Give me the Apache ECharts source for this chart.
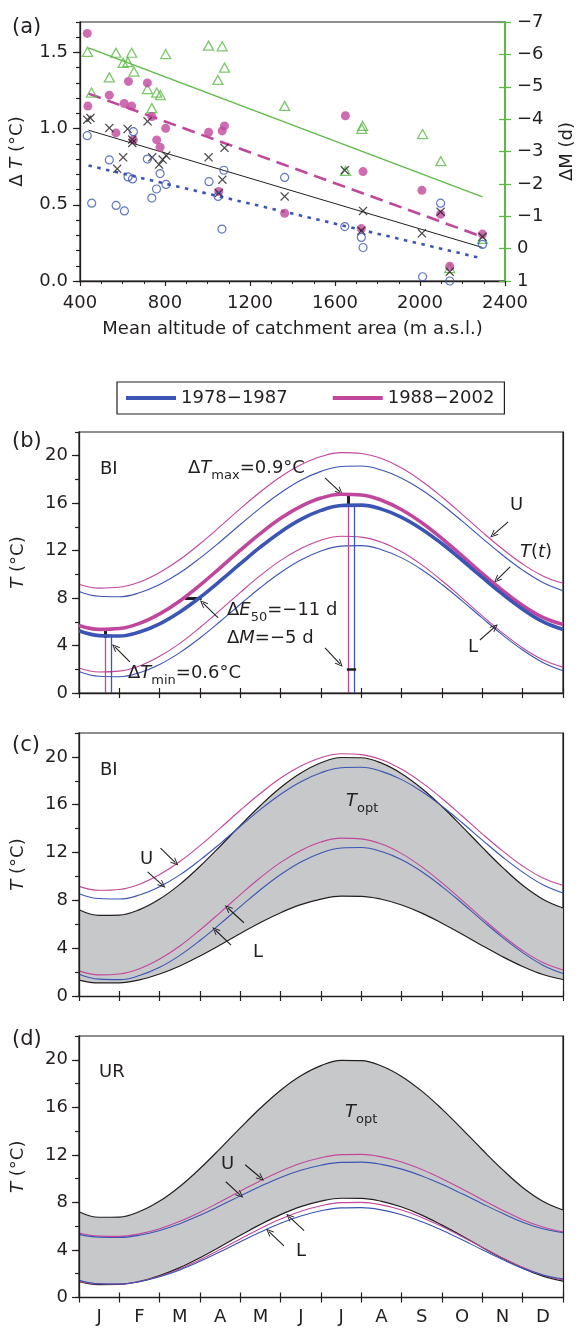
<!DOCTYPE html>
<html>
<head>
<meta charset="utf-8">
<script src="https://cdn.jsdelivr.net/npm/echarts@6/dist/echarts.min.js"></script>
<style>
  html, body { margin: 0; padding: 0; background: #fff; }
  #chart { width: 584px; height: 1329px; }
</style>
</head>
<body>
<div id="chart"></div>
<script>
// panel (a): altitude (m a.s.l.) vs. change
const triAlt = [435, 569, 643, 803, 1005, 1069, 1080, 1049, 603, 625, 654, 538, 454, 717, 761, 778, 738, 1363, 1730, 1726, 2012, 2098, 1650, 2140, 2294];
const triDM = [-6.08, -6.05, -6.05, -6.01, -6.27, -6.25, -5.59, -5.21, -5.74, -5.76, -5.47, -5.29, -4.82, -4.93, -4.82, -4.74, -4.34, -4.41, -3.79, -3.70, -3.54, -2.70, -2.40, 0.60, -0.30];
const dotAlt = [434, 538, 628, 717, 437, 608, 643, 738, 569, 651, 803, 761, 777, 1005, 1069, 1080, 1649, 1053, 1363, 1732, 1724, 2009, 2097, 2140, 2294];
const dotDT = [1.625, 1.22, 1.31, 1.30, 1.148, 1.165, 1.148, 1.08, 0.972, 0.926, 1.002, 0.926, 0.878, 0.976, 0.985, 1.018, 1.085, 0.588, 0.445, 0.718, 0.344, 0.595, 0.438, 0.097, 0.308];
const crossAlt = [434, 449, 538, 624, 718, 646, 646, 603, 740, 806, 1005, 1080, 575, 772, 789, 1070, 1053, 1363, 1646, 1732, 1724, 2009, 2097, 2140, 2294];
const crossDT = [1.059, 1.07, 1.005, 0.998, 1.048, 0.928, 0.906, 0.812, 0.812, 0.823, 0.812, 0.874, 0.736, 0.764, 0.797, 0.665, 0.577, 0.555, 0.727, 0.46, 0.33, 0.313, 0.454, 0.06, 0.29];
const ringAlt = [434, 651, 538, 717, 455, 570, 609, 626, 647, 738, 760, 777, 805, 1007, 1050, 1077, 1068, 1363, 1646, 1724, 1732, 2012, 2097, 2140, 2294];
const ringDT = [0.954, 0.98, 0.795, 0.80, 0.511, 0.496, 0.46, 0.683, 0.67, 0.544, 0.604, 0.705, 0.634, 0.652, 0.555, 0.727, 0.341, 0.68, 0.357, 0.286, 0.22, 0.028, 0.511, 0.0, 0.24];
// fitted lines, end points
const fitAlt = [440, 2294];
const fitDM = [-6.2, -1.6];
const fitDot = [1.23, 0.29];
const fitCross = [0.99, 0.22];
const fitRing = [0.758, 0.148];

// panels (b)-(d): month of year
const months = ['J', 'F', 'M', 'A', 'M', 'J', 'J', 'A', 'S', 'O', 'N', 'D'];
const tGrid = [0, 0.5, 1, 1.5, 2, 2.5, 3, 3.5, 4, 4.5, 5, 5.5, 6, 6.5, 7, 7.5, 8, 8.5, 9, 9.5, 10, 10.5, 11, 11.5, 12];
// BI river
const biU78 = [8.56, 8.15, 8.11, 8.45, 9.14, 10.13, 11.37, 12.75, 14.2, 15.61, 16.88, 17.93, 18.68, 19.09, 19.13, 18.79, 18.1, 17.11, 15.87, 14.49, 13.04, 11.63, 10.36, 9.31, 8.62];
const biU88 = [9.17, 8.84, 8.91, 9.35, 10.16, 11.25, 12.58, 14.04, 15.54, 16.96, 18.23, 19.23, 19.93, 20.26, 20.19, 19.76, 18.96, 17.85, 16.52, 15.06, 13.56, 12.14, 10.87, 9.87, 9.25];
const biL78 = [1.82, 1.41, 1.37, 1.71, 2.40, 3.40, 4.64, 6.03, 7.48, 8.89, 10.16, 11.21, 11.97, 12.38, 12.42, 12.08, 11.39, 10.39, 9.15, 7.76, 6.31, 4.90, 3.63, 2.58, 1.88];
const biL88 = [2.10, 1.77, 1.84, 2.28, 3.09, 4.18, 5.52, 6.98, 8.48, 9.91, 11.18, 12.18, 12.88, 13.21, 13.14, 12.71, 11.91, 10.8, 9.46, 8.0, 6.50, 5.07, 3.80, 2.80, 2.18];
const biT78 = [5.25, 4.84, 4.80, 5.14, 5.83, 6.83, 8.06, 9.45, 10.9, 12.31, 13.58, 14.63, 15.39, 15.8, 15.84, 15.5, 14.81, 13.81, 12.58, 11.19, 9.74, 8.33, 7.06, 6.01, 5.35];
const biT88 = [5.69, 5.36, 5.43, 5.87, 6.67, 7.76, 9.09, 10.55, 12.04, 13.46, 14.73, 15.73, 16.43, 16.75, 16.69, 16.25, 15.45, 14.35, 13.02, 11.56, 10.07, 8.65, 7.38, 6.38, 5.78];
// optimal band
const optHi = [7.22, 6.75, 6.77, 7.23, 8.11, 9.34, 10.85, 12.53, 14.27, 15.94, 17.44, 18.65, 19.51, 19.95, 19.93, 19.48, 18.6, 17.36, 15.85, 14.17, 12.43, 10.76, 9.26, 8.1, 7.36];
const optLo = [1.33, 1.09, 1.10, 1.35, 1.84, 2.51, 3.35, 4.27, 5.23, 6.15, 6.97, 7.64, 8.11, 8.35, 8.34, 8.09, 7.61, 6.93, 6.09, 5.17, 4.21, 3.29, 2.47, 1.80, 1.38];
// UR river
const urU78 = [5.31, 5.07, 5.05, 5.24, 5.64, 6.21, 6.92, 7.72, 8.55, 9.36, 10.10, 10.7, 11.13, 11.37, 11.39, 11.2, 10.8, 10.23, 9.52, 8.72, 7.89, 7.08, 6.34, 5.78, 5.45];
const urU88 = [5.42, 5.16, 5.14, 5.35, 5.78, 6.41, 7.18, 8.05, 8.95, 9.83, 10.63, 11.29, 11.76, 12.02, 12.04, 11.83, 11.4, 10.77, 10.0, 9.13, 8.23, 7.35, 6.55, 5.93, 5.52];
const urL78 = [1.45, 1.16, 1.14, 1.33, 1.74, 2.32, 3.04, 3.84, 4.69, 5.51, 6.25, 6.86, 7.30, 7.54, 7.56, 7.37, 6.96, 6.38, 5.66, 4.86, 4.01, 3.19, 2.45, 1.90, 1.58];
const urL88 = [1.36, 1.16, 1.14, 1.35, 1.78, 2.40, 3.17, 4.03, 4.93, 5.81, 6.6, 7.25, 7.72, 7.98, 8.0, 7.79, 7.36, 6.74, 5.97, 5.11, 4.21, 3.33, 2.54, 1.89, 1.48];
// markers in (b): [1978-1987, 1988-2002]
const minMonth = [0.79, 0.645];
const minTemp = [4.78, 5.35];
const peakMonth = [6.82, 6.68];
const peakTemp = [15.86, 16.76];
const e50Month = [3.04, 2.63];
const e50Temp = 8;
const dMTemp = 2;

const FONT = '"DejaVu Sans", "Liberation Sans", Arial, sans-serif';
const INK = '#231f20';
const BLUE = '#3a55b4';
const MAG = '#c1479c';
const GREEN = '#5cb946';
const GREY = '#c7c8ca';
const ARROW = 'path://M0,10 L5,0 L10,10 L8.6,10 L5,2.8 L1.4,10 Z';
const CROSS = 'path://M1,0 L5,4 L9,0 L10,1 L6,5 L10,9 L9,10 L5,6 L1,10 L0,9 L4,5 L0,1 Z';

const zip = (xs, ys) => xs.map((x, i) => [x, ys[i]]);
// rich text styles: n normal, i italic, s subscript
const rich = {
  n: { fontSize: 18, fontFamily: FONT, color: INK, lineHeight: 28 },
  i: { fontSize: 18, fontFamily: FONT, color: INK, lineHeight: 28, fontStyle: 'italic' },
  s: { fontSize: 13, fontFamily: FONT, color: INK, verticalAlign: 'bottom' },
  p: { fontSize: 21, fontFamily: FONT, color: INK, lineHeight: 28 }
};
const gRich = {};
Object.keys(rich).forEach(k => {
  const r = Object.assign({}, rich[k]);
  r.fill = r.color;
  delete r.color;
  gRich[k] = r;
});

function label(x, yc, text) {
  return {
    type: 'text', x: x, y: yc - 14, silent: true, z: 100,
    style: { text: text, rich: gRich, verticalAlign: 'top', align: 'left' }
  };
}

function monthAxes(grid, showLabels) {
  return [
    {
      type: 'value', gridIndex: grid, min: 0, max: 12, interval: 1, z: 5,
      axisLine: { lineStyle: { color: INK, width: 1.3 } },
      axisTick: { length: 5, lineStyle: { color: INK, width: 1.2 } },
      axisLabel: { show: false }, splitLine: { show: false }
    },
    {
      type: 'category', gridIndex: grid, position: 'bottom', data: months, boundaryGap: true, z: 5,
      axisLine: { show: false },
      axisTick: { show: true, inside: true, length: 5, lineStyle: { color: INK, width: 1.2 } },
      axisLabel: { show: showLabels, interval: 0, margin: 11, fontSize: 18, fontFamily: FONT, color: INK },
      splitLine: { show: false }
    }
  ];
}

function tempAxes(grid) {
  return [
    {
      type: 'value', gridIndex: grid, position: 'left', min: 0, max: 22, interval: 4, z: 5,
      axisLine: { show: true, lineStyle: { color: INK, width: 1.3 } },
      axisTick: { length: 7, lineStyle: { color: INK, width: 1.2 } },
      axisLabel: { margin: 11, fontSize: 18, fontFamily: FONT, color: INK, showMaxLabel: false },
      splitLine: { show: false },
      name: '{i|T}{n| (°C)}', nameLocation: 'middle', nameRotate: 90, nameGap: 47,
      nameTextStyle: { rich: rich }
    },
    {
      type: 'value', gridIndex: grid, position: 'left', min: 0, max: 22, interval: 2, z: 5,
      axisLine: { show: false },
      axisTick: { length: 4, lineStyle: { color: INK, width: 1.2 } },
      axisLabel: { show: false }, splitLine: { show: false }
    },
    {
      // right frame edge drawn over the grey band
      type: 'value', gridIndex: grid, position: 'right', min: 0, max: 22, z: 5,
      axisLine: { show: true, lineStyle: { color: INK, width: 1.2 } },
      axisTick: { show: false }, axisLabel: { show: false }, splitLine: { show: false }
    }
  ];
}

function curve(x, y, vals, color, width, extra) {
  return Object.assign({
    type: 'line', xAxisIndex: x, yAxisIndex: y, data: zip(tGrid, vals),
    smooth: 0.4, symbol: 'none', color: color,
    lineStyle: { color: color, width: width }, z: 4
  }, extra || {});
}

function arrows(list) {
  return {
    silent: true, animation: false, symbol: ['none', ARROW], symbolSize: [7, 8],
    label: { show: false }, lineStyle: { color: INK, width: 1.1, type: 'solid' },
    data: list.map(p => [{ coord: p[0] }, { coord: p[1] }])
  };
}

function band(x, y) {
  // grey T_opt band: grey under the upper edge, white under the lower edge
  return [
    curve(x, y, optHi, INK, 1.2, { z: 1, areaStyle: { color: GREY, opacity: 1, origin: 'start' } }),
    curve(x, y, optLo, INK, 1.2, { z: 1, areaStyle: { color: '#ffffff', opacity: 1, origin: 'start' } })
  ];
}

const mAxB = monthAxes(1, false), mAxC = monthAxes(2, false), mAxD = monthAxes(3, true);
const tAxB = tempAxes(1), tAxC = tempAxes(2), tAxD = tempAxes(3);
const minus = v => (v < 0 ? '\u2212' + (-v) : String(v));

const option = {
  animation: false,
  backgroundColor: '#fff',
  textStyle: { fontFamily: FONT },
  legend: {
    left: 117, top: 382, padding: [7, 10, 7, 9], itemGap: 45, itemWidth: 50, itemHeight: 4,
    icon: 'rect', borderColor: INK, borderWidth: 1.2, selectedMode: false,
    textStyle: { fontSize: 18, fontFamily: FONT, color: INK },
    data: ['1978\u22121987', '1988\u22122002']
  },
  grid: [
    { left: 80, top: 22, width: 433, height: 259, show: true, borderColor: INK, borderWidth: 1.2 },
    { left: 79, top: 432, width: 484, height: 261, show: true, borderColor: INK, borderWidth: 1.2 },
    { left: 79, top: 733, width: 484, height: 263, show: true, borderColor: INK, borderWidth: 1.2 },
    { left: 79, top: 1036, width: 484, height: 261.5, show: true, borderColor: INK, borderWidth: 1.2 }
  ],
  xAxis: [
    {
      type: 'value', gridIndex: 0, min: 400, max: 2400, interval: 400,
      axisLine: { lineStyle: { color: INK, width: 1.3 } },
      axisTick: { length: 5, lineStyle: { color: INK, width: 1.2 } },
      minorTick: { show: true, splitNumber: 4, length: 3, lineStyle: { color: INK, width: 1 } },
      axisLabel: { margin: 13, fontSize: 18, fontFamily: FONT, color: INK, formatter: v => String(v) },
      splitLine: { show: false },
      name: 'Mean altitude of catchment area (m a.s.l.)', nameLocation: 'middle', nameGap: 39,
      nameTextStyle: { fontSize: 18, fontFamily: FONT, color: INK }
    },
    mAxB[0], mAxB[1], mAxC[0], mAxC[1], mAxD[0], mAxD[1]
  ],
  yAxis: [
    {
      type: 'value', gridIndex: 0, position: 'left', min: 0, max: 1.7, interval: 0.5,
      axisLine: { show: true, lineStyle: { color: INK, width: 1.3 } },
      axisTick: { length: 7, lineStyle: { color: INK, width: 1.2 } },
      axisLabel: { margin: 12, fontSize: 18, fontFamily: FONT, color: INK, showMaxLabel: false,
        formatter: v => v.toFixed(1) },
      splitLine: { show: false },
      name: '{n|\u0394 }{i|T}{n| (°C)}', nameLocation: 'middle', nameRotate: 90, nameGap: 49,
      nameTextStyle: { rich: rich }
    },
    {
      type: 'value', gridIndex: 0, position: 'left', min: 0, max: 1.7, interval: 0.1,
      axisLine: { show: false },
      axisTick: { length: 4, lineStyle: { color: INK, width: 1.2 } },
      axisLabel: { show: false }, splitLine: { show: false }
    },
    {
      type: 'value', gridIndex: 0, position: 'right', min: -7, max: 1, interval: 1, inverse: true,
      axisLine: { show: true, lineStyle: { color: GREEN, width: 2 } },
      axisTick: { length: 6, lineStyle: { color: GREEN, width: 1.3 } },
      axisLabel: { margin: 12, fontSize: 18, fontFamily: FONT, color: INK, formatter: minus },
      splitLine: { show: false },
      name: '{n|\u0394M (d)}', nameLocation: 'middle', nameRotate: 90, nameGap: 48,
      nameTextStyle: { rich: rich }
    },
    {
      type: 'value', gridIndex: 0, position: 'right', min: -7, max: 1, interval: 1, inverse: true,
      axisLine: { show: false },
      axisTick: { inside: true, length: 6, lineStyle: { color: GREEN, width: 1.3 } },
      axisLabel: { show: false }, splitLine: { show: false }
    },
    tAxB[0], tAxB[1], tAxB[2], tAxC[0], tAxC[1], tAxC[2], tAxD[0], tAxD[1], tAxD[2]
  ],
  series: [
    // (a)
    { type: 'line', xAxisIndex: 0, yAxisIndex: 2, data: zip(fitAlt, fitDM), symbol: 'none',
      lineStyle: { color: GREEN, width: 1.2 }, z: 3 },
    { type: 'line', xAxisIndex: 0, yAxisIndex: 0, data: zip(fitAlt, fitDot), symbol: 'none',
      lineStyle: { color: MAG, width: 2.6, type: [13, 7] }, z: 3 },
    { type: 'line', xAxisIndex: 0, yAxisIndex: 0, data: zip(fitAlt, fitCross), symbol: 'none',
      lineStyle: { color: INK, width: 1 }, z: 3 },
    { type: 'line', xAxisIndex: 0, yAxisIndex: 0, data: zip(fitAlt, fitRing), symbol: 'none',
      lineStyle: { color: BLUE, width: 2.6, type: [3.5, 5.5] }, z: 3 },
    { type: 'scatter', xAxisIndex: 0, yAxisIndex: 2, data: zip(triAlt, triDM), symbol: 'triangle',
      symbolSize: [10, 9], clip: false,
      itemStyle: { color: 'rgba(255,255,255,0)', borderColor: GREEN, borderWidth: 1.3 }, z: 4 },
    { type: 'scatter', xAxisIndex: 0, yAxisIndex: 0, data: zip(dotAlt, dotDT), symbol: 'circle',
      symbolSize: 9, clip: false, itemStyle: { color: MAG }, z: 4 },
    { type: 'scatter', xAxisIndex: 0, yAxisIndex: 0, data: zip(crossAlt, crossDT), symbol: CROSS,
      symbolSize: 9, clip: false, itemStyle: { color: INK }, z: 5 },
    { type: 'scatter', xAxisIndex: 0, yAxisIndex: 0, data: zip(ringAlt, ringDT), symbol: 'circle',
      symbolSize: 8, clip: false,
      itemStyle: { color: 'rgba(255,255,255,0)', borderColor: BLUE, borderWidth: 1.2 }, z: 5 },

    // (b)
    curve(1, 4, biU78, BLUE, 1.1),
    curve(1, 4, biU88, MAG, 1.1),
    curve(1, 4, biL88, MAG, 1.1),
    curve(1, 4, biL78, BLUE, 1.1, {
      markLine: arrows([
        [[6.10, 18.14], [6.47, 16.95]],
        [[3.45, 6.33], [3.07, 7.59]],
        [[6.10, 3.80], [6.47, 2.45]],
        [[1.26, 2.62], [0.89, 3.88]],
        [[10.64, 14.43], [10.27, 13.33]],
        [[10.69, 10.63], [10.36, 9.54]],
        [[9.94, 4.47], [10.31, 5.57]]
      ])
    }),
    curve(1, 4, biT88, MAG, 3.6, {
      name: '1988\u22122002', z: 5,
      markLine: {
        silent: true, animation: false, symbol: 'none', label: { show: false },
        lineStyle: { color: MAG, width: 1.3, type: 'solid' },
        data: [
          [{ coord: [minMonth[1], 0] }, { coord: [minMonth[1], minTemp[1]] }],
          [{ coord: [peakMonth[1], 0] }, { coord: [peakMonth[1], peakTemp[1]] }]
        ]
      }
    }),
    curve(1, 4, biT78, BLUE, 3.6, {
      name: '1978\u22121987', z: 6,
      markLine: {
        silent: true, animation: false, symbol: 'none', label: { show: false },
        lineStyle: { color: BLUE, width: 1.3, type: 'solid' },
        data: [
          [{ coord: [minMonth[0], 0] }, { coord: [minMonth[0], minTemp[0]] }],
          [{ coord: [peakMonth[0], 0] }, { coord: [peakMonth[0], peakTemp[0]] }],
          [{ coord: [minMonth[1], minTemp[0] - 0.14], lineStyle: { color: INK, width: 3 } }, { coord: [minMonth[1], minTemp[1]] }],
          [{ coord: [peakMonth[1], peakTemp[0]], lineStyle: { color: INK, width: 3 } }, { coord: [peakMonth[1], peakTemp[1]] }],
          [{ coord: [e50Month[1], e50Temp], lineStyle: { color: INK, width: 3 } }, { coord: [e50Month[0], e50Temp] }],
          [{ coord: [peakMonth[1] - 0.04, dMTemp], lineStyle: { color: INK, width: 2.5 } }, { coord: [peakMonth[0] + 0.05, dMTemp] }]
        ]
      }
    }),

    // (c)
    ...band(3, 7),
    curve(3, 7, biU78, BLUE, 1.1),
    curve(3, 7, biU88, MAG, 1.1),
    curve(3, 7, biL88, MAG, 1.1),
    curve(3, 7, biL78, BLUE, 1.1, {
      markLine: arrows([
        [[2.02, 12.37], [2.39, 11.15]],
        [[1.70, 10.39], [2.07, 9.28]],
        [[4.09, 6.13], [3.69, 7.36]],
        [[3.77, 4.26], [3.38, 5.52]]
      ])
    }),

    // (d)
    ...band(5, 10),
    curve(5, 10, urU88, MAG, 1.1),
    curve(5, 10, urU78, BLUE, 1.1),
    curve(5, 10, urL88, MAG, 1.1),
    curve(5, 10, urL78, BLUE, 1.1, {
      markLine: arrows([
        [[4.12, 11.17], [4.51, 10.05]],
        [[3.64, 9.74], [4.0, 8.62]],
        [[5.58, 5.63], [5.21, 6.81]],
        [[5.08, 4.34], [4.71, 5.55]]
      ])
    })
  ],
  graphic: [
    label(12, 28, '{p|(a)}'),
    label(12, 442, '{p|(b)}'),
    label(100, 469, '{n|BI}'),
    label(188, 468, '{n|\u0394}{i|T}{s|max}{n|=0.9°C}'),
    label(227, 610, '{n|\u0394}{i|E}{s|50}{n|=\u221211 d}'),
    label(227, 638, '{n|\u0394}{i|M}{n|=\u22125 d}'),
    label(128, 673, '{n|\u0394}{i|T}{s|min}{n|=0.6°C}'),
    label(510, 505, '{n|U}'),
    label(520, 552, '{i|T}{n|(}{i|t}{n|)}'),
    label(468, 647, '{n|L}'),
    label(12, 746, '{p|(c)}'),
    label(100, 770, '{n|BI}'),
    label(346, 801, '{i|T}{s|opt}'),
    label(140, 859, '{n|U}'),
    label(253, 952, '{n|L}'),
    label(12, 1040, '{p|(d)}'),
    label(99, 1072, '{n|UR}'),
    label(345, 1112, '{i|T}{s|opt}'),
    label(221, 1164, '{n|U}'),
    label(296, 1251, '{n|L}')
  ]
};

const chart = echarts.init(document.getElementById('chart'));
chart.setOption(option);
</script>
</body>
</html>
